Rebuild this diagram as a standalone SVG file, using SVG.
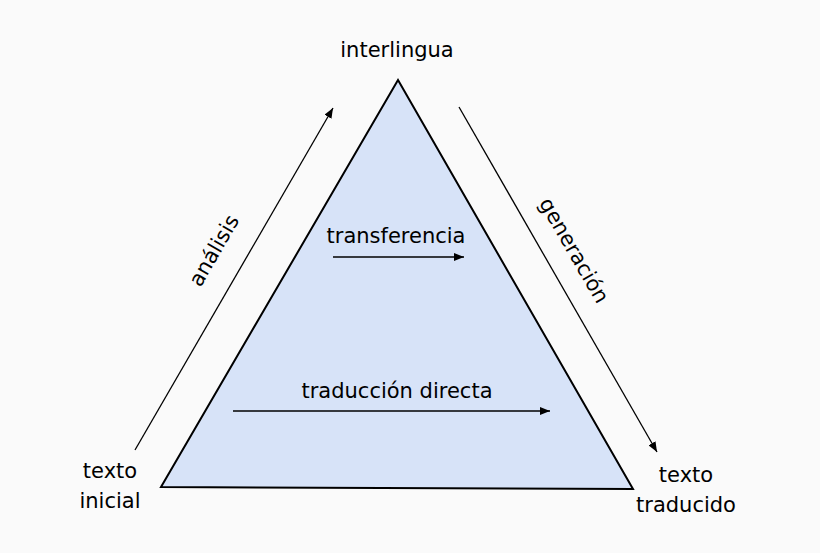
<svg xmlns="http://www.w3.org/2000/svg" width="820" height="553" viewBox="0 0 820 553">
<style>
text{font-family:"DejaVu Sans",sans-serif;font-size:21px;fill:#000;text-anchor:middle}
.c line{stroke:#000;stroke-width:1.3;marker-end:url(#a)}
</style>
<defs><marker id="a" viewBox="0 0 10 8" refX="10" refY="4" markerWidth="10" markerHeight="8" markerUnits="userSpaceOnUse" orient="auto"><path d="M0,0L10,4L0,8z"/></marker></defs>
<rect width="820" height="553" fill="#fafafa"/>
<g id="triangle"><polygon points="398,80 161,487 633,489" fill="#d7e3f8" stroke="#000" stroke-width="2"/></g>
<g id="interlingua"><text x="397" y="57">interlingua</text></g>
<g id="texto-inicial"><text x="110" y="478">texto</text><text x="110" y="508">inicial</text></g>
<g id="texto-traducido"><text x="686" y="482">texto</text><text x="686" y="512">traducido</text></g>
<g id="labels">
<text transform="translate(220,254) rotate(-60)">análisis</text>
<text transform="translate(568,254) rotate(60)">generación</text>
<text x="396" y="243">transferencia</text>
<text x="397" y="398">traducción directa</text>
</g>
<g class="c">
<line x1="135" y1="450" x2="333" y2="108"/>
<line x1="459" y1="107" x2="657" y2="452"/>
<line x1="333" y1="257" x2="464" y2="257"/>
<line x1="233" y1="411" x2="550" y2="411"/>
</g>
</svg>
